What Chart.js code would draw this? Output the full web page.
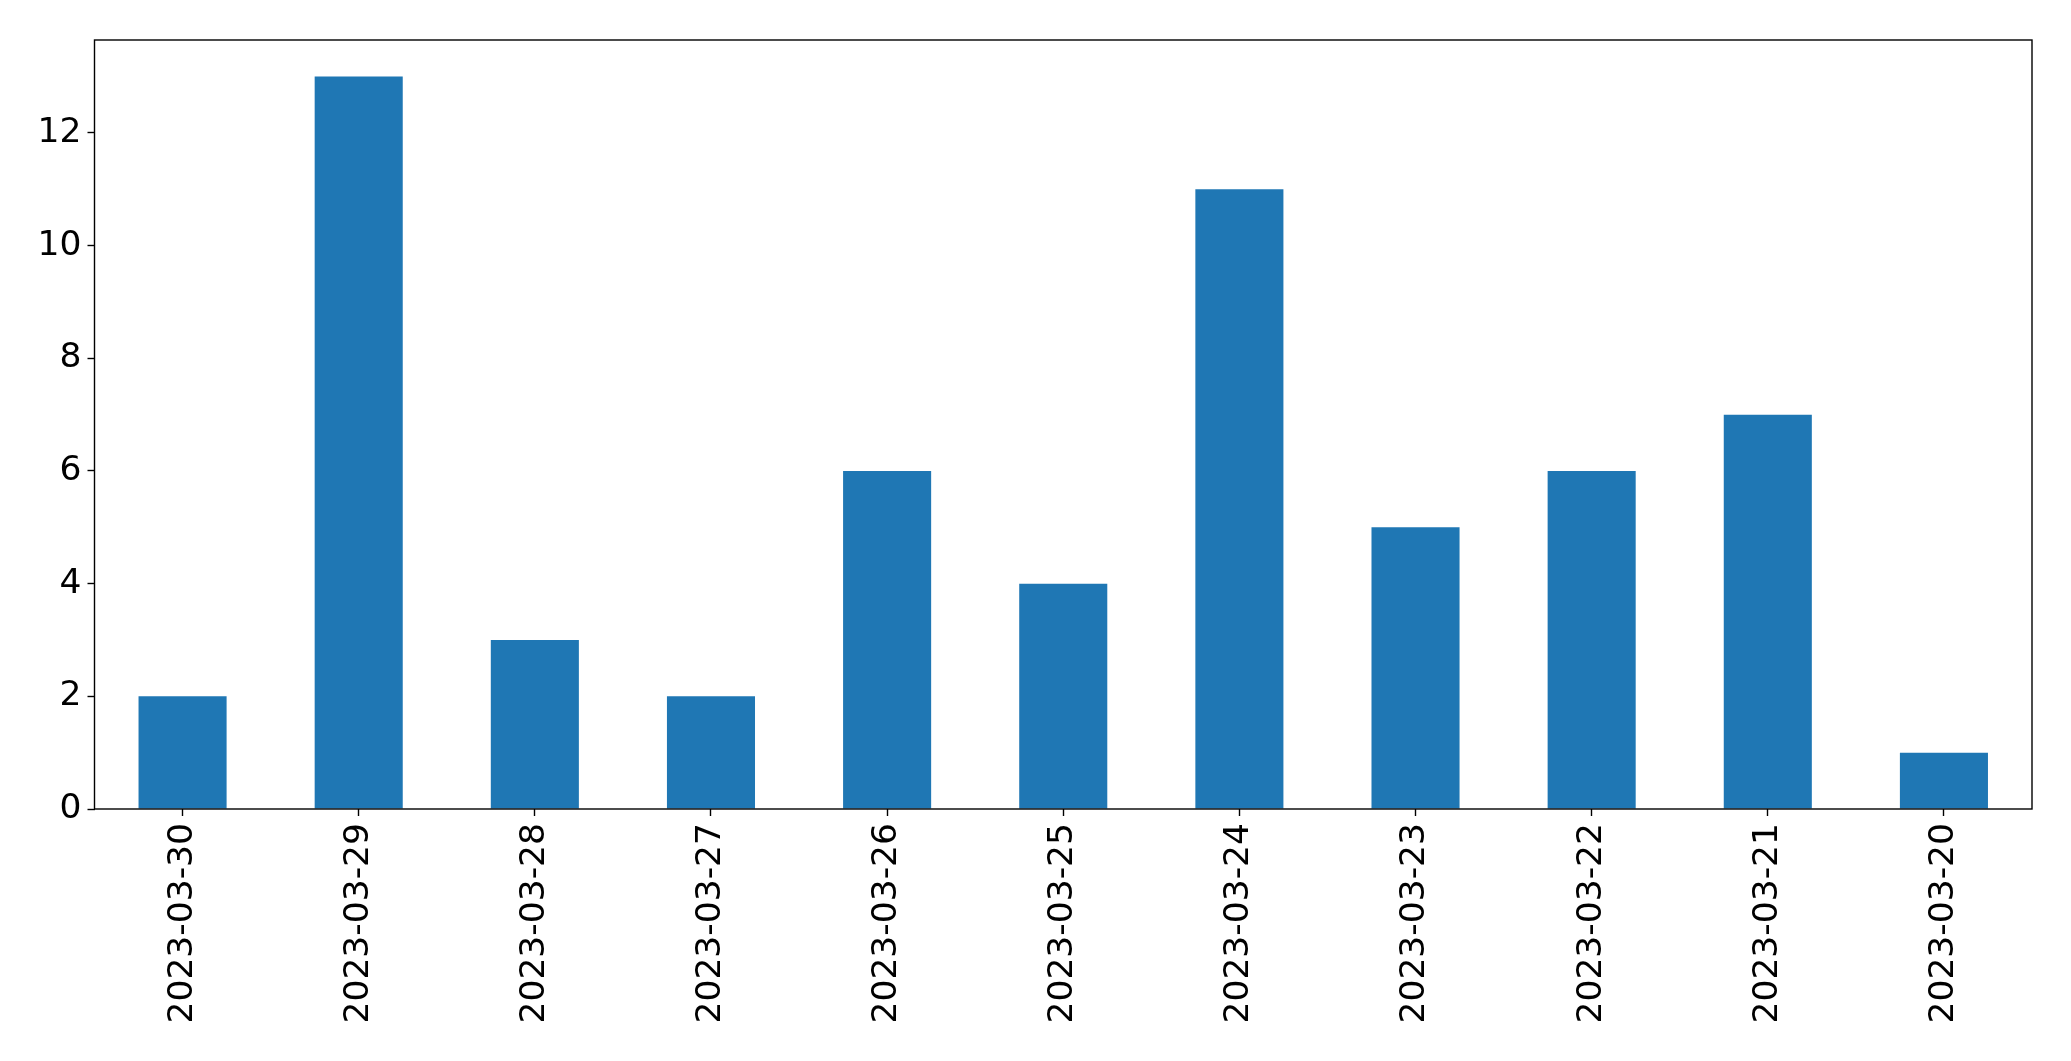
<!DOCTYPE html>
<html>
<head>
<meta charset="utf-8">
<script src="https://cdn.jsdelivr.net/npm/chart.js@4"></script>
<style>
  html, body { margin: 0; padding: 0; background: #fff; }
  #wrap { width: 2071px; height: 1061px; }
</style>
</head>
<body>
<div id="wrap"><canvas id="myChart"></canvas></div>
<script>
const dates = [
  "2023-03-30", "2023-03-29", "2023-03-28", "2023-03-27", "2023-03-26", "2023-03-25",
  "2023-03-24", "2023-03-23", "2023-03-22", "2023-03-21", "2023-03-20",
];
const counts = [2, 13, 3, 2, 6, 4, 11, 5, 6, 7, 1];
const yTicks = [0, 2, 4, 6, 8, 10, 12];

Chart.defaults.font.family = "'DejaVu Sans', sans-serif";
Chart.defaults.color = "#000";

// frame around the plot area like matplotlib's spines
const frame = {
  id: "frame",
  afterDraw(chart) {
    const { ctx, chartArea: a } = chart;
    ctx.save();
    ctx.strokeStyle = "#000";
    ctx.lineWidth = 1.4;
    ctx.strokeRect(a.left, a.top, a.right - a.left, a.bottom - a.top);
    ctx.restore();
  },
};

const ctx = document.getElementById("myChart");

new Chart(ctx, {
  type: "bar",
  data: {
    labels: dates,
    datasets: [
      {
        data: counts,
        backgroundColor: "#1f77b4",
        borderWidth: 0,
        barPercentage: 0.5,
        categoryPercentage: 1,
      },
    ],
  },
  options: {
    responsive: true,
    maintainAspectRatio: false,
    animation: false,
    layout: {
      padding: { top: 40, right: 39, left: 0, bottom: 0 },
    },
    plugins: {
      legend: { display: false },
      tooltip: { enabled: false },
    },
    scales: {
      x: {
        grid: { offset: false, drawOnChartArea: false, tickLength: 7, tickColor: "#000", tickWidth: 1.4 },
        border: { display: false },
        ticks: {
          font: { size: 34.5 },
          minRotation: 90,
          maxRotation: 90,
          padding: 7,
          autoSkip: false,
        },
        afterFit(scale) {
          scale.height = 252;
        },
      },
      y: {
        min: 0,
        max: 13.65,
        grid: { drawOnChartArea: false, tickLength: 7, tickColor: "#000", tickWidth: 1.4 },
        border: { display: false },
        afterBuildTicks(scale) {
          scale.ticks = yTicks.map((v) => ({ value: v }));
        },
        ticks: {
          font: { size: 34.5 },
          padding: 6,
        },
        afterFit(scale) {
          scale.width = 94.5;
        },
      },
    },
  },
  plugins: [frame],
});
</script>
</body>
</html>
